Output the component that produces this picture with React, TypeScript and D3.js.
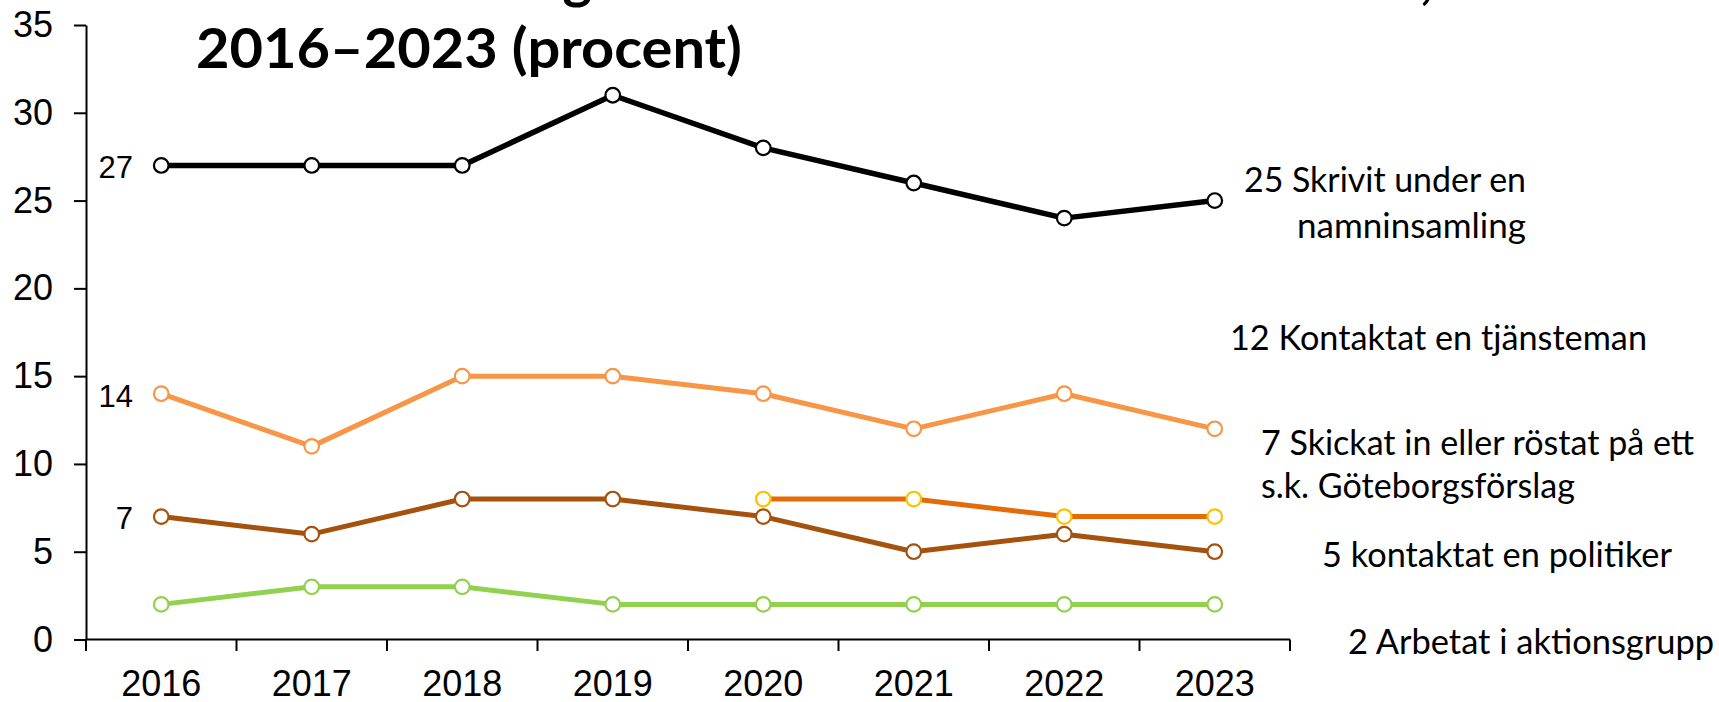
import React, { useEffect, useRef } from "react";
import * as d3 from "d3";

// chart data
const years = ["2016", "2017", "2018", "2019", "2020", "2021", "2022", "2023"];
const namninsamling = [27, 27, 27, 31, 28, 26, 24, 25];
const tjansteman = [14, 11, 15, 15, 14, 12, 14, 12];
const goteborgsforslag = [null, null, null, null, 8, 8, 7, 7];
const politiker = [7, 6, 8, 8, 7, 5, 6, 5];
const aktionsgrupp = [2, 3, 3, 2, 2, 2, 2, 2];
const yTicks = [0, 5, 10, 15, 20, 25, 30, 35];

const titleLine1a = "Aktiviteter i Göteborg";
const titleLine1b = "de senaste tolv månaderna,";
const titleLine2 = "2016–2023 (procent)";

const series = [
  { name: "Skrivit under en namninsamling", values: namninsamling, line: "#000000", marker: "#000000", w: 5.5 },
  { name: "Kontaktat en tjänsteman", values: tjansteman, line: "#F79646", marker: "#F79646", w: 5 },
  { name: "Göteborgsförslag", values: goteborgsforslag, line: "#E36C09", marker: "#FFC000", w: 5 },
  { name: "kontaktat en politiker", values: politiker, line: "#A5520F", marker: "#A5520F", w: 5 },
  { name: "Arbetat i aktionsgrupp", values: aktionsgrupp, line: "#92D050", marker: "#92D050", w: 5 },
];

// end labels (text), layout kept separately below
const endLabels = [
  ["25 Skrivit under en", "namninsamling"],
  ["12 Kontaktat en tjänsteman"],
  ["7 Skickat in eller röstat på ett", "s.k. Göteborgsförslag"],
  ["5 kontaktat en politiker"],
  ["2 Arbetat i aktionsgrupp"],
];
const endLayout = [
  { x: 1526, anchor: "end", y: [192, 238], len: [282, 229] },
  { x: 1230, anchor: "start", y: [350], len: [417] },
  { x: 1261, anchor: "start", y: [455, 498], len: [433, 314] },
  { x: 1322, anchor: "start", y: [567], len: [350] },
  { x: 1348, anchor: "start", y: [654], len: [366] },
];

const W = 1719;
const H = 702;

export default function App() {
  const ref = useRef<SVGSVGElement>(null);

  useEffect(() => {
    const svg = d3.select(ref.current);
    svg.selectAll("*").remove();

    const x = d3.scaleBand().domain(years).range([86, 1290]).padding(0);
    const cx = (i: number) => (x(years[i]) as number) + x.bandwidth() / 2;
    const y = d3.scaleLinear().domain([0, 35]).range([639.5, 25]);

    // title (first line mostly above the visible area)
    const title = svg.append("text")
      .attr("font-family", "Lato, sans-serif")
      .attr("font-weight", 700)
      .attr("font-size", 56)
      .attr("fill", "#000");
    title.append("tspan").attr("x", 592).attr("y", -2).attr("text-anchor", "end").text(titleLine1a);
    title.append("tspan").attr("x", 1433).attr("y", -2).attr("text-anchor", "end").text(titleLine1b);
    svg.append("text")
      .attr("x", 196).attr("y", 68)
      .attr("font-family", "Lato, sans-serif")
      .attr("font-weight", 700)
      .attr("font-size", 56)
      .attr("textLength", 546)
      .attr("lengthAdjust", "spacingAndGlyphs")
      .text(titleLine2);

    // y axis
    const yAxis = svg.append("g")
      .attr("transform", "translate(86,0)")
      .call(d3.axisLeft(y).tickValues(yTicks).tickSize(12).tickSizeOuter(0).tickPadding(21));
    yAxis.attr("font-family", "'Liberation Sans', Arial, sans-serif").attr("font-size", 36);
    yAxis.selectAll("line").attr("stroke", "#000").attr("stroke-width", 2);
    yAxis.select(".domain").attr("stroke", "#000").attr("stroke-width", 2);
    yAxis.selectAll("text").attr("fill", "#000");

    // x axis labels
    const xAxis = svg.append("g")
      .attr("transform", "translate(0,639.5)")
      .call(d3.axisBottom(x).tickSize(0).tickPadding(31));
    xAxis.attr("font-family", "'Liberation Sans', Arial, sans-serif").attr("font-size", 36);
    xAxis.select(".domain").remove();
    xAxis.selectAll("text").attr("fill", "#000");

    // x axis line + boundary ticks
    svg.append("line")
      .attr("x1", 86).attr("x2", 1290).attr("y1", 639.5).attr("y2", 639.5)
      .attr("stroke", "#000").attr("stroke-width", 2);
    const bounds = years.map((yr) => x(yr) as number).concat([x.range()[1]]);
    svg.append("g").selectAll("line").data(bounds).join("line")
      .attr("x1", (d) => d).attr("x2", (d) => d)
      .attr("y1", 639.5).attr("y2", 651)
      .attr("stroke", "#000").attr("stroke-width", 2);

    // series
    series.forEach((s) => {
      const pts = s.values.map((v, i) => ({ v, i })).filter((p) => p.v != null) as { v: number; i: number }[];
      const line = d3.line<{ v: number; i: number }>().x((p) => cx(p.i)).y((p) => y(p.v));
      svg.append("path")
        .datum(pts)
        .attr("d", line)
        .attr("fill", "none")
        .attr("stroke", s.line)
        .attr("stroke-width", s.w)
        .attr("stroke-linejoin", "round");
      svg.append("g").selectAll("circle").data(pts).join("circle")
        .attr("cx", (p) => cx(p.i))
        .attr("cy", (p) => y(p.v))
        .attr("r", 7.3)
        .attr("fill", "#fff")
        .attr("stroke", s.marker)
        .attr("stroke-width", 2.2);
    });

    // start value labels
    const startSeries = [namninsamling, tjansteman, politiker];
    svg.append("g").selectAll("text").data(startSeries).join("text")
      .attr("x", 133)
      .attr("y", (d) => y(d[0]) + 2)
      .attr("dy", "0.35em")
      .attr("text-anchor", "end")
      .attr("font-family", "'Liberation Sans', Arial, sans-serif")
      .attr("font-size", 31)
      .attr("fill", "#000")
      .text((d) => String(d[0]));

    // end labels
    endLabels.forEach((lines, k) => {
      const lay = endLayout[k];
      lines.forEach((t, j) => {
        svg.append("text")
          .attr("x", lay.x)
          .attr("y", lay.y[j])
          .attr("text-anchor", lay.anchor)
          .attr("font-family", "Lato, sans-serif")
          .attr("font-size", 34)
          .attr("fill", "#000")
          .attr("textLength", lay.len[j])
          .attr("lengthAdjust", "spacingAndGlyphs")
          .text(t);
      });
    });
  }, []);

  return (
    <svg
      ref={ref}
      width={W}
      height={H}
      style={{ position: "absolute", left: 0, top: 0, background: "#fff" }}
    />
  );
}
